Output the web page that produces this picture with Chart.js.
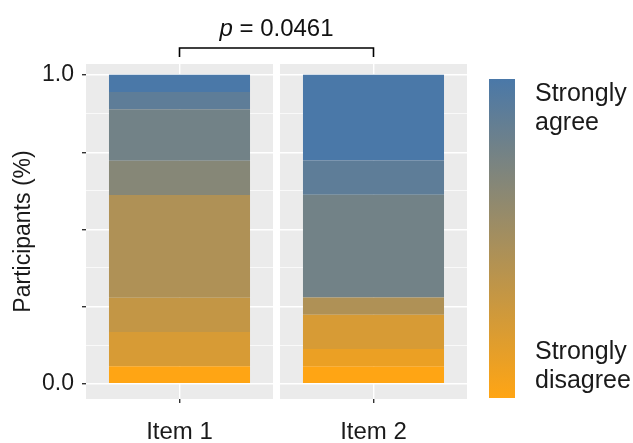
<!DOCTYPE html>
<html>
<head>
<meta charset="utf-8">
<script src="https://cdn.jsdelivr.net/npm/chart.js@4"></script>
<style>
  body { margin: 0; background: #fff; }
  #wrap { width: 633px; height: 443px; }
</style>
</head>
<body>
<div id="wrap"><canvas id="chart" width="633" height="443"></canvas></div>
<script>
// data (share of participants per answer level, 0 = strongly disagree .. 9 = strongly agree)
const categories = ["Item 1", "Item 2"];
const levels = [0, 1, 2, 3, 4, 5, 6, 7, 8, 9];
const item1Shares = [0.056, 0, 0.111, 0.111, 0.333, 0, 0.111, 0.167, 0.056, 0.056];
const item2Shares = [0.056, 0.056, 0.111, 0, 0.056, 0, 0, 0.333, 0.111, 0.278];
const yTickValues = [0, 0.125, 0.25, 0.375, 0.5, 0.625, 0.75, 0.875, 1];
const yTickLabels = { 0: "0.0", 1: "1.0" };
const pValueText = "0.0461";
const legendTop = ["Strongly", "agree"];
const legendBottom = ["Strongly", "disagree"];

const FONT = "'Liberation Sans', Arial, sans-serif";
const lowColor = [255, 165, 20];   // orange
const highColor = [74, 120, 168];  // steel blue

function levelColor(lv) {
  const t = lv / (levels.length - 1);
  const c = lowColor.map((v, i) => Math.round(v + (highColor[i] - v) * t));
  return "rgb(" + c.join(",") + ")";
}

const shares = [item1Shares, item2Shares];
const datasets = levels.map((lv, i) => ({
  label: "level " + lv,
  data: categories.map((c, j) => ({ x: j, y: shares[j][i] })),
  backgroundColor: levelColor(lv),
  borderWidth: 0,
  categoryPercentage: 1,
  barPercentage: 0.727
}));

// grey facet panels + white gap between them
const panelPlugin = {
  id: "panels",
  beforeDraw(chart) {
    const { ctx, chartArea: a } = chart;
    ctx.save();
    ctx.fillStyle = "#EBEBEB";
    ctx.fillRect(a.left, a.top, a.right - a.left, a.bottom - a.top);
    ctx.restore();
  },
  beforeDatasetsDraw(chart) {
    const { ctx, chartArea: a } = chart;
    const mid = chart.scales.x.getPixelForValue(0.5);
    ctx.save();
    ctx.fillStyle = "#fff";
    ctx.fillRect(mid - 3.5, a.top, 7, a.bottom - a.top);
    ctx.restore();
  }
};

// p-value bracket and colour bar legend
const extrasPlugin = {
  id: "extras",
  afterDraw(chart) {
    const { ctx } = chart;
    const x = chart.scales.x;
    const x1 = x.getPixelForValue(0);
    const x2 = x.getPixelForValue(1);
    ctx.save();
    ctx.strokeStyle = "#000";
    ctx.lineWidth = 1.6;
    ctx.beginPath();
    ctx.moveTo(x1, 57);
    ctx.lineTo(x1, 48);
    ctx.lineTo(x2, 48);
    ctx.lineTo(x2, 57);
    ctx.stroke();

    ctx.fillStyle = "#111";
    ctx.textBaseline = "alphabetic";
    ctx.font = "italic 24px " + FONT;
    const wp = ctx.measureText("p").width;
    ctx.font = "24px " + FONT;
    const rest = " = " + pValueText;
    const wr = ctx.measureText(rest).width;
    const start = (x1 + x2) / 2 - (wp + wr) / 2;
    ctx.font = "italic 24px " + FONT;
    ctx.fillText("p", start, 36);
    ctx.font = "24px " + FONT;
    ctx.fillText(rest, start + wp, 36);

    // colour bar
    const top = 79, bottom = 398, left = 489, w = 26;
    const g = ctx.createLinearGradient(0, top, 0, bottom);
    g.addColorStop(0, levelColor(levels[levels.length - 1]));
    g.addColorStop(1, levelColor(levels[0]));
    ctx.fillStyle = g;
    ctx.fillRect(left, top, w, bottom - top);

    ctx.fillStyle = "#1a1a1a";
    ctx.font = "25px " + FONT;
    ctx.textBaseline = "alphabetic";
    ctx.fillText(legendTop[0], 535, 101);
    ctx.fillText(legendTop[1], 535, 130);
    ctx.fillText(legendBottom[0], 535, 359);
    ctx.fillText(legendBottom[1], 535, 388);
    ctx.restore();
  }
};

new Chart(document.getElementById("chart"), {
  type: "bar",
  data: { datasets: datasets },
  plugins: [panelPlugin, extrasPlugin],
  options: {
    responsive: false,
    animation: false,
    layout: { padding: { top: 64, right: 166, left: 0, bottom: 0 } },
    plugins: { legend: { display: false }, tooltip: { enabled: false } },
    scales: {
      x: {
        type: "linear",
        stacked: true,
        offset: false,
        min: -0.482,
        max: 1.482,
        afterFit(s) { s.height = 44; },
        afterBuildTicks(s) { s.ticks = categories.map((c, j) => ({ value: j })); },
        border: { display: false },
        grid: { offset: false, color: "#fff", lineWidth: 1.4, tickColor: "#333", tickLength: 4 },
        ticks: {
          color: "#1a1a1a",
          font: { family: FONT, size: 24 },
          padding: 15,
          callback: v => categories[v]
        }
      },
      y: {
        stacked: true,
        min: -0.05,
        max: 1.036,
        afterFit(s) { s.width = 86; },
        afterBuildTicks(s) { s.ticks = yTickValues.map(v => ({ value: v })); },
        border: { display: false },
        grid: {
          color: "#fff",
          lineWidth: c => (c.tick && c.tick.value % 0.25 === 0 ? 1.4 : 0.7),
          tickColor: c => (c.tick && c.tick.value % 0.25 === 0 ? "#333" : "rgba(0,0,0,0)"),
          tickLength: 4
        },
        ticks: {
          color: "#1a1a1a",
          font: { family: FONT, size: 23 },
          padding: 8,
          autoSkip: false,
          callback: v => (yTickLabels[v] !== undefined ? yTickLabels[v] : "")
        },
        title: {
          display: true,
          text: "Participants (%)",
          color: "#1a1a1a",
          font: { family: FONT, size: 23 },
          padding: { top: 10, bottom: 0 }
        }
      }
    }
  }
});
</script>
</body>
</html>
